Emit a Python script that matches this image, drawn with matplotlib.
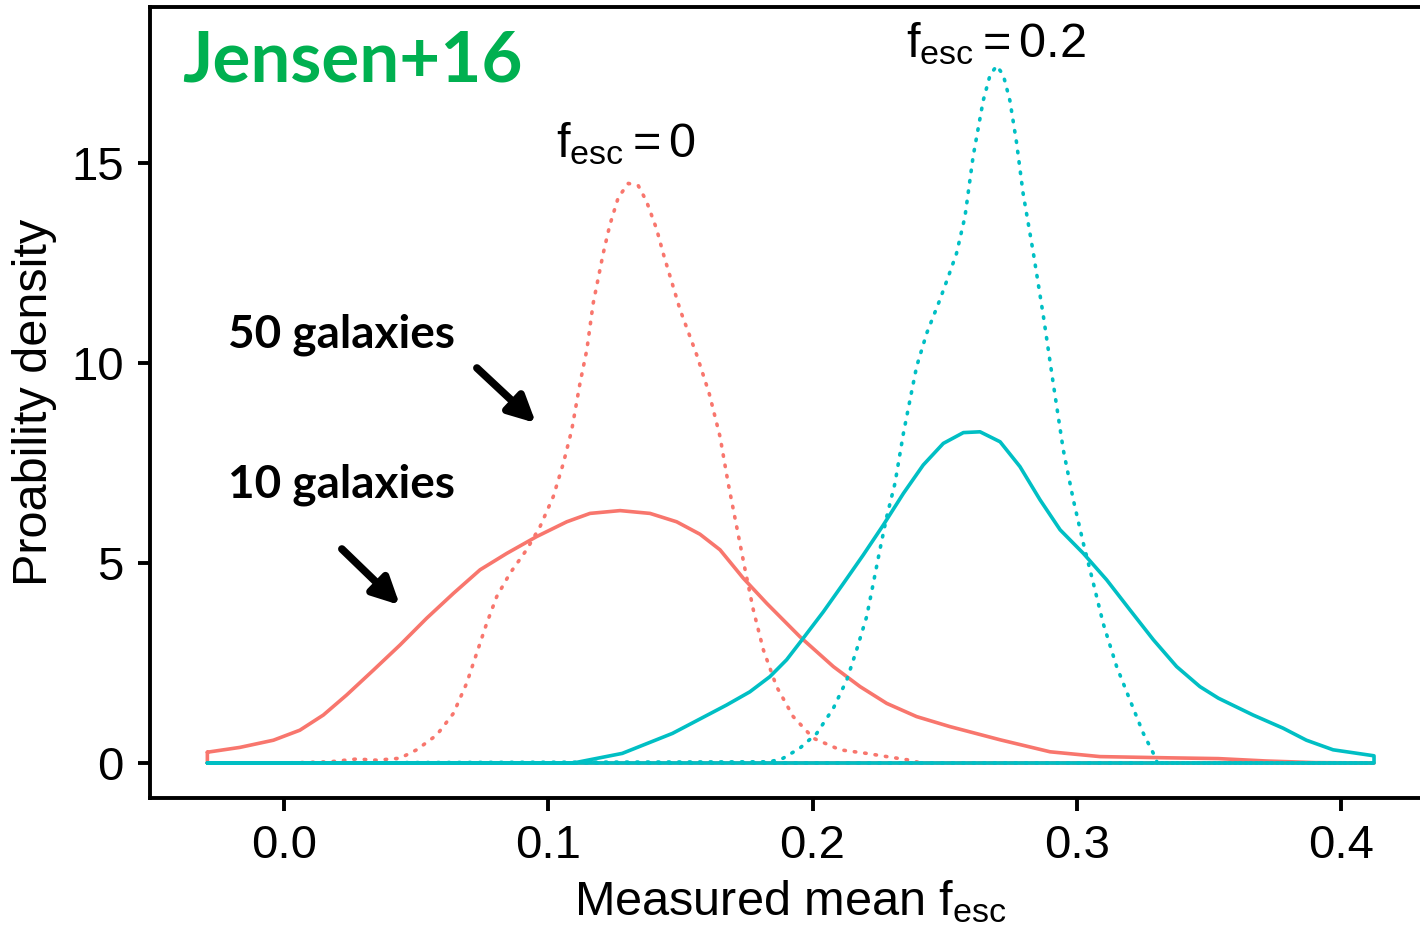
import numpy as np
import matplotlib
matplotlib.use('Agg')
import matplotlib.pyplot as plt

# ##### DATA ###############################

x_min, x_max = -0.029, 0.4125

# f_esc = 0, 10 galaxies (solid red)
red10_x = [-0.029, -0.0167, -0.004, 0.006, 0.0149, 0.0237, 0.0338, 0.0439, 0.054, 0.0641,
           0.0742, 0.0843, 0.0956, 0.107, 0.1158, 0.1272, 0.1385, 0.1486, 0.1574, 0.165,
           0.1738, 0.1827, 0.1952, 0.2079, 0.218, 0.2281, 0.2394, 0.252, 0.271, 0.2899,
           0.3088, 0.334, 0.3536, 0.3718, 0.39, 0.4125]
red10_y = [0.27, 0.39, 0.57, 0.82, 1.2, 1.7, 2.32, 2.95, 3.62, 4.24,
           4.83, 5.24, 5.66, 6.03, 6.24, 6.31, 6.24, 6.03, 5.72, 5.33,
           4.62, 3.99, 3.16, 2.41, 1.91, 1.49, 1.16, 0.91, 0.58, 0.28,
           0.16, 0.13, 0.11, 0.05, 0.01, 0.0]

# f_esc = 0, 50 galaxies (dotted red)
red50_x = [-0.029, 0.0, 0.0174, 0.0275, 0.0351, 0.0439, 0.0502, 0.0578, 0.0641, 0.0691,
           0.0729, 0.0767, 0.0805, 0.0855, 0.0918, 0.0969, 0.1019, 0.1057, 0.1089, 0.112,
           0.1146, 0.117, 0.1208, 0.1233, 0.1265, 0.1303, 0.1341, 0.1372, 0.141, 0.1435,
           0.1499, 0.1562, 0.1609, 0.165, 0.1681, 0.1713, 0.1745, 0.1776, 0.1814, 0.1864,
           0.1927, 0.2003, 0.2104, 0.2205, 0.2281, 0.2369, 0.241, 0.4125]
red50_y = [0.0, 0.0, 0.03, 0.1, 0.07, 0.12, 0.33, 0.7, 1.24, 1.99,
           2.74, 3.49, 4.16, 4.74, 5.33, 5.91, 6.66, 7.49, 8.33, 9.49,
           10.33, 11.49, 12.74, 13.45, 14.14, 14.49, 14.43, 14.04, 13.35, 12.74,
           11.33, 10.2, 9.24, 8.16, 6.99, 5.91, 4.83, 3.83, 2.83, 1.91,
           1.16, 0.62, 0.33, 0.24, 0.16, 0.07, 0.0, 0.0]

# f_esc = 0.2, 10 galaxies (solid cyan)
cyan10_x = [-0.029, 0.1095, 0.128, 0.147, 0.1574, 0.1675, 0.1763, 0.1839, 0.1902, 0.1965,
            0.2041, 0.2117, 0.2192, 0.2268, 0.2344, 0.2419, 0.2495, 0.2571, 0.2634, 0.271,
            0.2785, 0.2861, 0.2937, 0.3025, 0.3113, 0.3201, 0.329, 0.3378, 0.3466, 0.3536,
            0.3667, 0.3781, 0.3869, 0.397, 0.4125]
cyan10_y = [0.0, 0.0, 0.24, 0.74, 1.1, 1.45, 1.78, 2.16, 2.58, 3.12,
            3.78, 4.49, 5.2, 5.95, 6.74, 7.45, 7.99, 8.26, 8.28, 8.03,
            7.41, 6.58, 5.83, 5.24, 4.58, 3.83, 3.08, 2.41, 1.91, 1.62,
            1.2, 0.87, 0.57, 0.33, 0.18]

# f_esc = 0.2, 50 galaxies (dotted cyan)
cyan50_x = [-0.029, 0.1839, 0.1889, 0.1952, 0.2016, 0.2079, 0.213, 0.2167, 0.2205, 0.223,
            0.2255, 0.2281, 0.2312, 0.2344, 0.2369, 0.2394, 0.2432, 0.2482, 0.2514, 0.2545,
            0.2577, 0.2608, 0.2646, 0.2672, 0.2697, 0.2722, 0.2747, 0.2772, 0.2797, 0.2836,
            0.2874, 0.2911, 0.2949, 0.2987, 0.3025, 0.3063, 0.31, 0.3151, 0.3201, 0.3252,
            0.329, 0.3305, 0.4125]
cyan50_y = [0.0, 0.03, 0.12, 0.37, 0.74, 1.37, 2.08, 2.83, 3.66, 4.49,
            5.33, 6.16, 6.99, 8.24, 9.08, 9.91, 10.74, 11.58, 12.16, 12.74,
            13.66, 15.17, 16.56, 17.2, 17.43, 17.2, 16.56, 15.52, 14.24, 12.74,
            11.16, 9.49, 7.83, 6.58, 5.49, 4.49, 3.49, 2.41, 1.58, 0.74,
            0.24, 0.0, 0.0]

x_ticks = [0.0, 0.1, 0.2, 0.3, 0.4]
y_ticks = [0, 5, 10, 15]

red = '#F8766D'
cyan = '#00BFC4'
green = '#00B050'

######################

plt.rcParams['font.family'] = ['Liberation Sans', 'DejaVu Sans']
plt.rcParams['mathtext.fontset'] = 'custom'
plt.rcParams['mathtext.rm'] = 'Liberation Sans'
plt.rcParams['mathtext.it'] = 'Liberation Sans'

W, H = 1420, 931
fig = plt.figure(figsize=(W / 100, H / 100), dpi=100)
ax = fig.add_axes([150 / W, 1 - 798 / H, 1280 / W, (798 - 7) / H])


def density_outline(xs, ys):
    # closed outline like ggplot's geom_density: curve plus baseline
    px = list(xs) + [x_max, x_min, xs[0]]
    py = list(ys) + [0.0, 0.0, ys[0]]
    return px, py


dots = (0, (0.4, 2.5))
curves = [
    (red10_x, red10_y, red, '-'),
    (red50_x, red50_y, red, dots),
    (cyan10_x, cyan10_y, cyan, '-'),
    (cyan50_x, cyan50_y, cyan, dots),
]
for xs, ys, col, ls in curves:
    px, py = density_outline(xs, ys)
    ax.plot(px, py, color=col, ls=ls, lw=2.6, solid_joinstyle='round',
            dash_capstyle='round', solid_capstyle='round', dash_joinstyle='round')

ax.set_xlim((150 - 284) / 2642.5, (1430 - 284) / 2642.5)
ax.set_ylim(-0.875, 18.9)
ax.set_xticks(x_ticks)
ax.set_xticklabels([f'{t:.1f}' for t in x_ticks])
ax.set_yticks(y_ticks)
ax.tick_params(labelsize=34, width=2.8, length=9, direction='out', pad=10)

for s in ['left', 'bottom', 'top']:
    ax.spines[s].set_linewidth(2.8)
ax.spines['right'].set_visible(False)

ax.set_xlabel(r'Measured mean $\mathregular{f_{esc}}$', fontsize=35, labelpad=7)
ax.set_ylabel('Proability density', fontsize=35, labelpad=10)

# curve labels
ax.text(0.1294, 15.15, r'$\mathregular{f_{esc}=0}$', fontsize=35,
        ha='center', va='baseline')
ax.text(0.2694, 17.65, r'$\mathregular{f_{esc}=0.2}$', fontsize=35,
        ha='center', va='baseline')

# annotations
ax.text(-0.0386, 17.55, 'Jensen+16', fontsize=51, color=green,
        family='Lato', weight='bold', ha='left', va='center')
ax.text(-0.0212, 10.4, '50 galaxies', fontsize=33, family='Lato',
        weight='bold', ha='left', va='baseline')
ax.text(-0.0212, 6.625, '10 galaxies', fontsize=33, family='Lato',
        weight='bold', ha='left', va='baseline')

arrow = dict(arrowstyle='-|>,head_length=0.4,head_width=0.2', color='black',
             lw=5.5, shrinkA=0, shrinkB=2, mutation_scale=40)
ax.annotate('', xy=(0.0961, 8.45), xytext=(0.073, 9.875), arrowprops=arrow)
ax.annotate('', xy=(0.0446, 3.9), xytext=(0.0219, 5.35), arrowprops=arrow)

plt.savefig('out.png', dpi=100)
plt.close()
